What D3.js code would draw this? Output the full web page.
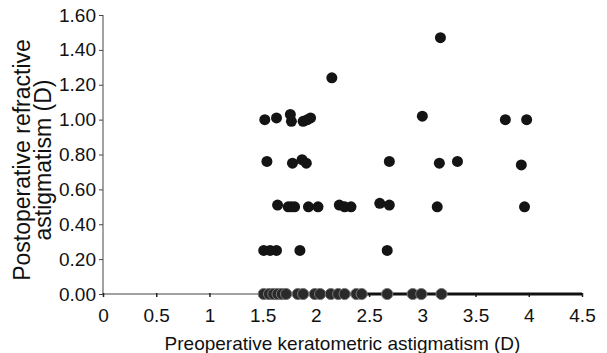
<!DOCTYPE html>
<html>
<head>
<meta charset="utf-8">
<script src="https://cdn.jsdelivr.net/npm/d3@7"></script>
<style>
  html, body { margin: 0; padding: 0; background: #fff; }
  svg { display: block; font-family: Arial, "Liberation Sans", sans-serif; }
</style>
</head>
<body>
<svg id="chart" width="607" height="353"></svg>
<script>
// Non-zero outcomes: preoperative keratometric vs postoperative refractive astigmatism (D)
const keratometric = [
  1.52, 1.63, 1.76, 1.77, 1.88, 1.92, 1.95, 2.15, 3.00, 3.17, 3.78, 3.98,
  1.54, 1.78, 1.87, 1.91, 2.69, 3.16, 3.33, 3.93,
  1.64, 1.74, 1.77, 1.80, 1.93, 2.02, 2.22, 2.27, 2.33, 2.60, 2.69, 3.14, 3.96,
  1.51, 1.57, 1.63, 1.85, 2.67
];
const refractive = [
  1.00, 1.01, 1.03, 0.99, 0.99, 1.00, 1.01, 1.24, 1.02, 1.47, 1.00, 1.00,
  0.76, 0.75, 0.77, 0.75, 0.76, 0.75, 0.76, 0.74,
  0.51, 0.50, 0.50, 0.50, 0.50, 0.50, 0.51, 0.50, 0.50, 0.52, 0.51, 0.50, 0.50,
  0.25, 0.25, 0.25, 0.25, 0.25
];
// Eyes with 0.00 D postoperative astigmatism
const keratometricZero = [
  1.51, 1.56, 1.60, 1.64, 1.68, 1.72, 1.83, 1.88, 1.99, 2.04,
  2.14, 2.21, 2.27, 2.38, 2.43, 2.67, 2.91, 2.99, 3.18
];
const xTicks = [0, 0.5, 1, 1.5, 2, 2.5, 3, 3.5, 4, 4.5];
const yTicks = [0, 0.2, 0.4, 0.6, 0.8, 1.0, 1.2, 1.4, 1.6];

const svg = d3.select('#chart');
const x = d3.scaleLinear().domain([0, 4.5]).range([103, 582]);
const y = d3.scaleLinear().domain([0, 1.6]).range([294, 15]);

// y axis
const yAxis = svg.append('g')
  .attr('transform', `translate(${x(0)},0)`)
  .call(d3.axisLeft(y).tickValues(yTicks).tickFormat(d3.format('.2f')).tickSize(4).tickPadding(3));
yAxis.select('.domain').attr('stroke', '#444').attr('d', `M0,${y(1.6)}V${y(0)}`);
yAxis.selectAll('.tick line').attr('stroke', '#444');
yAxis.selectAll('.tick text').attr('font-size', 19).attr('fill', '#111')
  .attr('font-family', 'Arial, "Liberation Sans", sans-serif');

// x axis
const xAxis = svg.append('g')
  .attr('transform', `translate(0,${y(0)})`)
  .call(d3.axisBottom(x).tickValues(xTicks).tickFormat(d => String(d)).tickSize(3).tickPadding(12));
xAxis.select('.domain').attr('stroke', '#444').attr('d', `M${x(0)},0H${x(4.5)}`);
xAxis.selectAll('.tick line').attr('stroke', '#222').attr('y1', -1).attr('stroke-width', 1.5);
xAxis.selectAll('.tick text').attr('font-size', 19).attr('fill', '#111')
  .attr('font-family', 'Arial, "Liberation Sans", sans-serif');

// heavy baseline under the zero cluster
svg.append('line')
  .attr('x1', x(1.5)).attr('x2', x(4.5))
  .attr('y1', y(0)).attr('y2', y(0))
  .attr('stroke', '#111').attr('stroke-width', 3);

// points
svg.append('g').selectAll('circle')
  .data(keratometric.map((k, i) => [k, refractive[i]]))
  .join('circle')
  .attr('cx', d => x(d[0]))
  .attr('cy', d => y(d[1]))
  .attr('r', 5.5)
  .attr('fill', '#141414');

svg.append('g').selectAll('circle')
  .data(keratometricZero)
  .join('circle')
  .attr('cx', d => x(d))
  .attr('cy', y(0))
  .attr('r', 5.6)
  .attr('fill', '#2a2a2a')
  .attr('stroke', '#777')
  .attr('stroke-width', 1);

// axis titles
svg.append('text')
  .attr('x', (x(0) + x(4.5)) / 2)
  .attr('y', 350)
  .attr('text-anchor', 'middle')
  .attr('font-size', 19)
  .attr('fill', '#111')
  .text('Preoperative keratometric astigmatism (D)');

const yTitle = svg.append('text')
  .attr('transform', 'translate(0,160) rotate(-90)')
  .attr('text-anchor', 'middle')
  .attr('font-size', 23)
  .attr('fill', '#111');
yTitle.append('tspan').attr('x', 0).attr('y', 30).text('Postoperative refractive');
yTitle.append('tspan').attr('x', 0).attr('y', 51).text('astigmatism (D)');
</script>
</body>
</html>
